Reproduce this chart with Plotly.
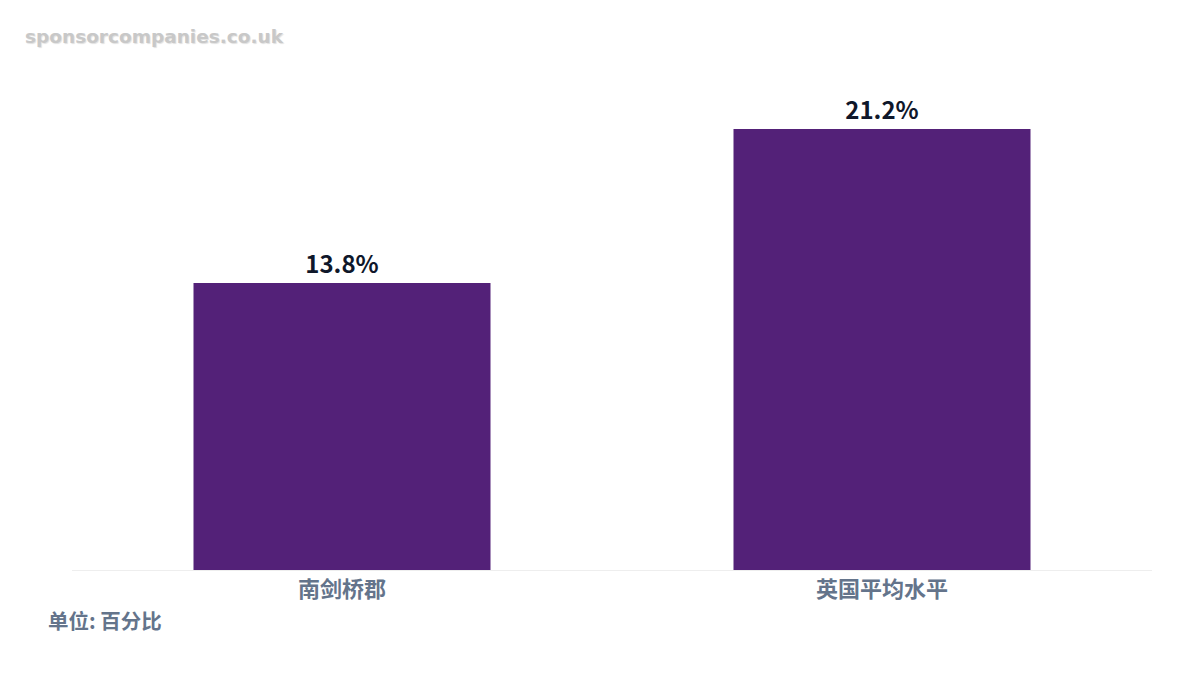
import plotly.graph_objects as go

categories = ["南剑桥郡", "英国平均水平"]
values = [13.8, 21.2]
labels = ["13.8%", "21.2%"]

fig = go.Figure()
fig.add_trace(go.Bar(
    x=categories, y=values,
    marker=dict(color="#532178", line=dict(width=0)),
    text=labels, textposition="outside", cliponaxis=False,
    textfont=dict(family="Noto Sans CJK SC", size=24, color="#0f172a", weight="bold"),
    hoverinfo="skip",
))

fig.update_layout(
    width=1200, height=675,
    paper_bgcolor="white", plot_bgcolor="white",
    margin=dict(l=64, r=56, t=52, b=113),
    bargap=0.45,
    showlegend=False,
    xaxis=dict(
        showgrid=False, showline=True, linecolor="#eeeeee", linewidth=1,
        ticks="", tickfont=dict(family="Noto Sans CJK SC", size=22, color="#64748b", weight="bold"),
        fixedrange=True,
    ),
    yaxis=dict(
        range=[0, 24.52], showgrid=False, zeroline=False, showticklabels=False,
        fixedrange=True,
    ),
    annotations=[
        dict(text="sponsorcompanies.co.uk", xref="paper", yref="paper",
             x=0, y=1, xanchor="left", yanchor="middle",
             xshift=-49, yshift=24,
             showarrow=False,
             font=dict(family="DejaVu Sans", size=18.5, color="#c8c8c8", weight="bold",
                       shadow="1px 1px 1px rgba(0,0,0,0.12)")),
        dict(text="单位: 百分比", xref="paper", yref="paper",
             x=0, y=0, xanchor="left", yanchor="middle",
             xshift=-26, yshift=-50,
             showarrow=False,
             font=dict(family="Noto Sans CJK SC", size=20.5, color="#64748b", weight="bold")),
    ],
)

fig.write_html("out.html")
